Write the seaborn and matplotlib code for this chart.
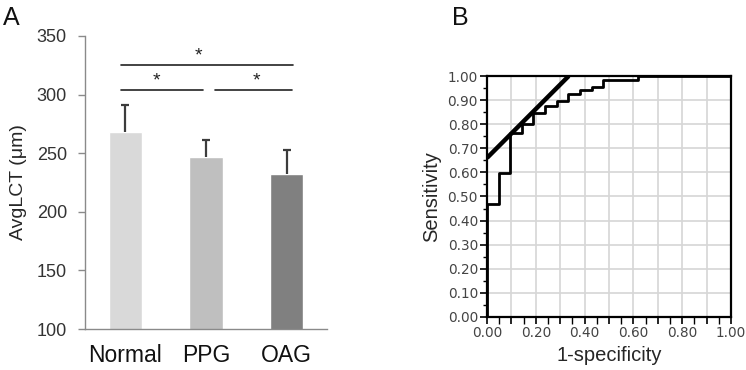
import matplotlib
matplotlib.use("Agg")
import matplotlib.pyplot as plt
import matplotlib.ticker as mticker
import seaborn as sns
import pandas as pd

# ---- data ----
groups = ["Normal", "PPG", "OAG"]
avglct_mean = [268, 247, 232]
avglct_sd = [23, 14, 21]
bar_colors = ["#d9d9d9", "#bfbfbf", "#808080"]

roc_fpr = [0.0, 0.0, 0.048, 0.095, 0.143, 0.190, 0.238, 0.286, 0.333, 0.381, 0.429, 0.476, 0.619, 1.0]
roc_tpr = [0.0, 0.47, 0.596, 0.762, 0.80, 0.845, 0.877, 0.895, 0.927, 0.940, 0.953, 0.985, 1.0, 1.0]

tangent_x = [0.0, 0.335]
tangent_y = [0.66, 1.0]

sns.set_style("white")
plt.rcParams["font.family"] = ["Liberation Sans", "DejaVu Sans"]

fig = plt.figure(figsize=(7.46, 3.70), dpi=100)

# ---------------- Panel A ----------------
axA = fig.add_axes([85/746, 1-329/370, (327-85)/746, (329-36)/370])
dfA = pd.DataFrame({"group": groups, "mean": avglct_mean})
sns.barplot(data=dfA, x="group", y="mean", hue="group", palette=bar_colors,
            width=0.41, legend=False, ax=axA, saturation=1, errorbar=None)
eb = axA.errorbar(range(len(groups)), avglct_mean, yerr=[[0]*3, avglct_sd],
                  fmt="none", ecolor="#3c3c3c", elinewidth=1.6, capsize=3.2, capthick=1.6)
# keep only the upper caps
if len(eb[1]) == 2:
    eb[1][0].set_visible(False)
axA.set_xlim(-0.5, 2.5)
axA.set_ylim(100, 350)
axA.set_yticks([100, 150, 200, 250, 300, 350])
axA.set_xlabel("")
axA.set_ylabel("AvgLCT (μm)", fontsize=14, color="#262626", labelpad=7)
for s in ["top", "right"]:
    axA.spines[s].set_visible(False)
for s in ["left", "bottom"]:
    axA.spines[s].set_color("#8a8a8a")
    axA.spines[s].set_linewidth(1.0)
axA.xaxis.set_minor_locator(mticker.FixedLocator([-0.5, 0.5, 1.5, 2.5]))
axA.tick_params(axis="x", which="major", length=0, labelsize=16.5, labelcolor="#111111", pad=11)
axA.tick_params(axis="x", which="minor", length=5, color="#8a8a8a", width=1.0, direction="out")
axA.tick_params(axis="y", which="major", length=5, color="#8a8a8a", width=1.0,
                labelsize=13, labelcolor="#333333", direction="out", left=True, pad=8)

# significance brackets
line_kw = dict(color="#222222", lw=1.2, clip_on=False)
axA.plot([-0.05, 2.08], [325, 325], **line_kw)
axA.plot([-0.05, 0.96], [304, 304], **line_kw)
axA.plot([1.11, 2.06], [304, 304], **line_kw)
star_kw = dict(ha="center", va="center", fontsize=14, color="#222222")
axA.text(0.91, 333, "*", **star_kw)
axA.text(0.39, 312, "*", **star_kw)
axA.text(1.62, 312, "*", **star_kw)

fig.text(3/746, 1-18/370, "A", fontsize=18, color="#111111", va="center", ha="left")

# ---------------- Panel B ----------------
axB = fig.add_axes([487/746, 1-317/370, (731-487)/746, (317-76)/370])
sns.lineplot(x=roc_fpr, y=roc_tpr, estimator=None, sort=False, drawstyle="steps-post",
             color="black", lw=2.0, ax=axB, zorder=3)
sns.lineplot(x=tangent_x, y=tangent_y, estimator=None, sort=False,
             color="black", lw=3.2, ax=axB, zorder=4, solid_capstyle="butt")
axB.set_xlim(0, 1)
axB.set_ylim(0, 1)
axB.xaxis.set_major_locator(mticker.MultipleLocator(0.1))
axB.xaxis.set_minor_locator(mticker.MultipleLocator(0.05))
axB.yaxis.set_major_locator(mticker.MultipleLocator(0.1))
axB.yaxis.set_minor_locator(mticker.MultipleLocator(0.05))
axB.xaxis.set_major_formatter(mticker.FuncFormatter(
    lambda v, p: f"{v:.2f}" if round(v * 10) % 2 == 0 else ""))
axB.yaxis.set_major_formatter(mticker.FuncFormatter(lambda v, p: f"{v:.2f}"))
axB.grid(True, which="major", color="#d6d6d6", lw=1.2)
axB.set_axisbelow(True)
for s in axB.spines.values():
    s.set_visible(True)
    s.set_color("black")
    s.set_linewidth(1.6)
axB.tick_params(axis="both", which="major", length=5, width=1.2, color="black",
                labelsize=9.8, labelcolor="#444444", direction="out",
                bottom=True, left=True, pad=1.5)
axB.tick_params(axis="both", which="minor", length=3, width=1.0, color="black",
                direction="out", bottom=True, left=True)
axB.tick_params(axis="x", which="minor", length=5)
for lab in axB.get_xticklabels() + axB.get_yticklabels():
    lab.set_family("DejaVu Sans")
axB.set_xlabel("1-specificity", fontsize=14.5, color="#262626", labelpad=4)
axB.set_ylabel("Sensitivity", fontsize=14.5, color="#262626", labelpad=5)

fig.text(452/746, 1-18/370, "B", fontsize=18, color="#111111", va="center", ha="left")

fig.savefig("out.png", dpi=100, facecolor="white")
